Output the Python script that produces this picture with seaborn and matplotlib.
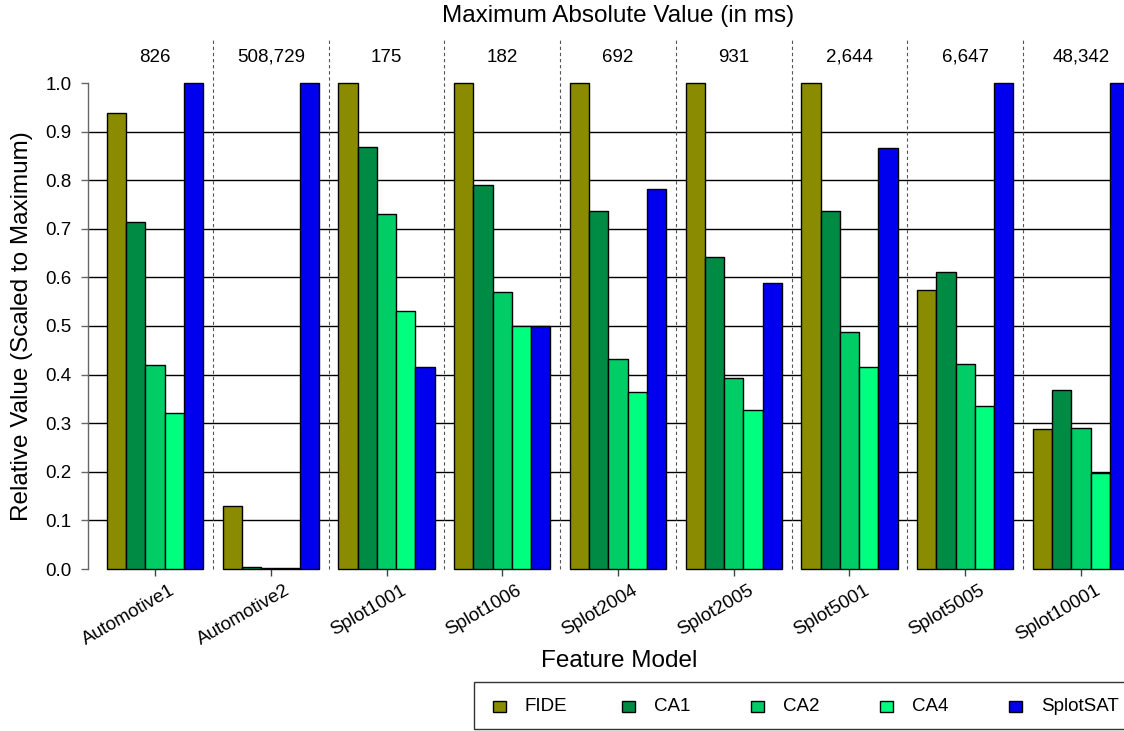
import numpy as np
import pandas as pd
import matplotlib
matplotlib.use("Agg")
import matplotlib.pyplot as plt
from matplotlib.patches import Rectangle
from matplotlib.transforms import ScaledTranslation
import seaborn as sns

# ---- data -------------------------------------------------------------
models = ["Automotive1", "Automotive2", "Splot1001", "Splot1006", "Splot2004",
          "Splot2005", "Splot5001", "Splot5005", "Splot10001"]
methods = ["FIDE", "CA1", "CA2", "CA4", "SplotSAT"]

fide     = [0.938, 0.130, 1.000, 1.000, 1.000, 1.000, 1.000, 0.574, 0.288]
ca1      = [0.714, 0.005, 0.868, 0.790, 0.737, 0.642, 0.737, 0.611, 0.368]
ca2      = [0.420, 0.003, 0.730, 0.570, 0.432, 0.393, 0.488, 0.422, 0.290]
ca4      = [0.321, 0.002, 0.531, 0.500, 0.364, 0.327, 0.416, 0.335, 0.198]
splotsat = [1.000, 1.000, 0.416, 0.500, 0.782, 0.588, 0.866, 1.000, 1.000]

max_abs_ms = [826, 508729, 175, 182, 692, 931, 2644, 6647, 48342]

colors = ["#8B8B00", "#008B45", "#00CD66", "#00FF7F", "#0000EE"]
grid_levels = [0.1, 0.2, 0.3, 0.4, 0.5, 0.6, 0.7, 0.8, 0.9]
y_ticks = [0.0, 0.1, 0.2, 0.3, 0.4, 0.5, 0.6, 0.7, 0.8, 0.9, 1.0]

series = dict(zip(methods, [fide, ca1, ca2, ca4, splotsat]))
df = pd.DataFrame([
    {"model": m, "method": meth, "value": vals[i]}
    for meth, vals in series.items()
    for i, m in enumerate(models)
])

# ---- styling ----------------------------------------------------------
sns.set_style("white")
plt.rcParams["font.family"] = ["Liberation Sans", "DejaVu Sans"]
plt.rcParams["text.color"] = "black"
plt.rcParams["xtick.labelcolor"] = "black"
plt.rcParams["ytick.labelcolor"] = "black"

W, H = 1124, 731
def fx(x):
    return x / W
def fy(y):
    return 1 - y / H

fig = plt.figure(figsize=(W / 100, H / 100), dpi=100)
ax = fig.add_axes([fx(88), fy(569), (1148 - 88) / W, (569 - 83) / H])

sns.barplot(data=df, x="model", y="value", hue="method",
            order=models, hue_order=methods, palette=colors,
            width=5 / 6, saturation=1, edgecolor="black", linewidth=1,
            legend=False, ax=ax)
for p in ax.patches:
    p.set_clip_on(False)
    p.set_zorder(3)

ax.set_xlim(-0.58, 8.58)
ax.set_ylim(0, 1.0)

# horizontal reference lines behind the bars
ax.hlines(grid_levels, -0.58, 8.58, color="black", lw=1, zorder=1)

# dashed separators between feature models
for i in range(len(models) - 1):
    ax.plot([i + 0.5, i + 0.5], [0, 1.093], color="#555555", lw=0.8,
            linestyle=(0, (3, 2.5)), clip_on=False, zorder=2)

# maximum absolute values above each group
for i, v in enumerate(max_abs_ms):
    ax.text(i, 1.053, f"{v:,}", ha="center", va="center", fontsize=13.5,
            clip_on=False)

# axes
for s in ["top", "right", "bottom"]:
    ax.spines[s].set_visible(False)
ax.spines["left"].set_color("#666666")
ax.spines["left"].set_linewidth(1)
ax.spines["left"].set_bounds(0, 1)
ax.set_yticks(y_ticks)
ax.set_yticklabels([f"{t:.1f}" for t in y_ticks])
ax.tick_params(axis="y", length=5.3, width=1, color="#666666", pad=6.5,
               labelsize=13.5, left=True)
ax.set_xticks(range(len(models)))
ax.set_xticklabels(models)
ax.tick_params(axis="x", length=5.3, width=1, color="#444444", pad=4,
               labelsize=13.5, bottom=True)
shift = ScaledTranslation(0.14, 0.0, fig.dpi_scale_trans)
for lbl in ax.get_xticklabels():
    lbl.set_rotation(30)
    lbl.set_ha("right")
    lbl.set_va("top")
    lbl.set_rotation_mode("anchor")
    lbl.set_transform(lbl.get_transform() + shift)
ax.set_xlabel("")
ax.set_ylabel("")

# titles
fig.text(fx(618), fy(16), "Maximum Absolute Value (in ms)", ha="center",
         va="center", fontsize=17.5)
fig.text(fx(619), fy(661), "Feature Model", ha="center", va="center",
         fontsize=17.5)
fig.text(fx(22), fy(326), "Relative Value (Scaled to Maximum)", ha="center",
         va="center", rotation=90, fontsize=17.5)

# legend
fig.add_artist(Rectangle((fx(474), fy(729)), (1140 - 474) / W, (729 - 682) / H,
                         transform=fig.transFigure, facecolor="white",
                         edgecolor="#333333", lw=1))
key_left = [493, 622, 751, 880, 1009]
for x0, name, c in zip(key_left, methods, colors):
    fig.add_artist(Rectangle((fx(x0), fy(712)), 13 / W, 11 / H,
                             transform=fig.transFigure, facecolor=c,
                             edgecolor="black", lw=1))
    fig.text(fx(x0 + 32), fy(706.5), name, ha="left", va="center",
             fontsize=13.5)

fig.savefig("out.png", dpi=100)
